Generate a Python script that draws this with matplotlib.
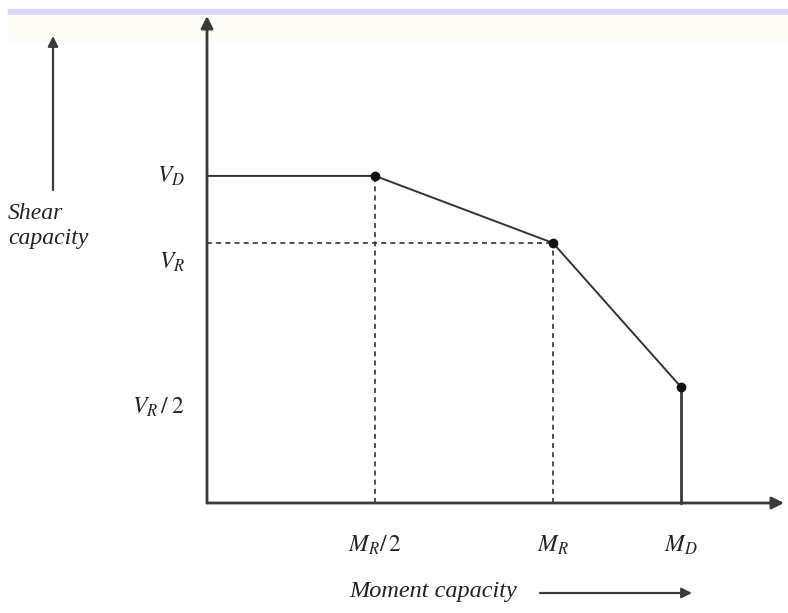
"""Shear-moment interaction diagram."""

import matplotlib
matplotlib.use("Agg")
import matplotlib.pyplot as plt
from matplotlib.patches import Rectangle

# Moment values (in units of M_R) and shear values (in units of V_R)
M_LABELS = [r"$M_R/\,2$", r"$M_R$", r"$M_D$"]
M_VALUES = [0.486, 1.0, 1.37]
V_LABELS = [r"$V_D$", r"$V_R$", r"$V_R\,/\;2$"]
V_VALUES = [1.258, 1.0, 0.446]

# Curve corner points
CURVE_M = [0.0, 0.486, 1.0, 1.37, 1.37]
CURVE_V = [1.258, 1.258, 1.0, 0.446, 0.0]
DOT_M = [0.486, 1.0, 1.37]
DOT_V = [1.258, 1.0, 0.446]

# pixel scale: 346 px per M unit, 260 px per V unit, origin at (207, 503)
SX, SY = 346.0, 260.0
X0, Y0 = 207.0, 503.0
W, H = 788, 613

plt.rcParams["mathtext.fontset"] = "stix"
plt.rcParams["font.family"] = ["Liberation Serif", "DejaVu Serif"]

fig = plt.figure(figsize=(W / 100, H / 100), dpi=100)
ax = fig.add_axes([0, 0, 1, 1])
ax.set_xlim(-X0 / SX, (W - X0) / SX)
ax.set_ylim(-(H - Y0) / SY, Y0 / SY)
ax.axis("off")
ax.set_zorder(2)

# top band decoration (behind the axes)
fig.patches.append(Rectangle((8 / W, 1 - 15 / H), 1, 6 / H, transform=fig.transFigure,
                             color="#dad6f6", zorder=-1))
fig.patches.append(Rectangle((8 / W, 1 - 40 / H), 1, 25 / H, transform=fig.transFigure,
                             color="#fcfcf4", zorder=-1))

AX_COL = "#3a3a3a"
arrow = dict(arrowstyle="-|>", color=AX_COL, lw=2, mutation_scale=18, shrinkA=0, shrinkB=0)

# axes
ax.annotate("", xy=(0, (Y0 - 16) / SY), xytext=(0, 0), arrowprops=arrow)
ax.annotate("", xy=((784 - X0) / SX, 0), xytext=(0, 0), arrowprops=arrow)

# curve
ax.plot(CURVE_M[:-1], CURVE_V[:-1], color="#333333", lw=1.4, zorder=3)
ax.plot(CURVE_M[-2:], CURVE_V[-2:], color=AX_COL, lw=2, zorder=3)
ax.plot(DOT_M, DOT_V, "o", color="#111111", ms=6, zorder=4)

# dashed guides
dash = dict(color="#333333", lw=1.2, ls=(0, (3, 2.5)))
ax.plot([M_VALUES[0], M_VALUES[0]], [0, V_VALUES[0]], **dash)
ax.plot([M_VALUES[1], M_VALUES[1]], [0, V_VALUES[1]], **dash)
ax.plot([0, M_VALUES[1]], [V_VALUES[1], V_VALUES[1]], **dash)

# tick labels
fs = 17
v_offsets = [0.0, -0.075, -0.08]
for lab, v, off in zip(V_LABELS, V_VALUES, v_offsets):
    ax.text(-22 / SX, v + off, lab, ha="right", va="center", fontsize=fs, color="#222222")
for lab, m in zip(M_LABELS, M_VALUES):
    ax.text(m, -42 / SY, lab, ha="center", va="center", fontsize=fs, color="#222222")

# axis titles
ax.text((349 - X0) / SX, -(592 - Y0) / SY, "Moment capacity", style="italic",
        ha="left", va="center", fontsize=17.5, color="#222222")
ax.annotate("", xy=((692 - X0) / SX, -(593 - Y0) / SY), xytext=((540 - X0) / SX, -(593 - Y0) / SY),
            arrowprops=dict(arrow, lw=1.6, mutation_scale=15))

ax.text((8 - X0) / SX, (Y0 - 226) / SY, "Shear\ncapacity", style="italic",
        ha="left", va="center", fontsize=17, color="#222222", linespacing=1.2)
ax.annotate("", xy=((53 - X0) / SX, (Y0 - 36) / SY), xytext=((53 - X0) / SX, (Y0 - 190) / SY),
            arrowprops=dict(arrow, lw=1.6, mutation_scale=15))

fig.savefig("out.png", dpi=100)
